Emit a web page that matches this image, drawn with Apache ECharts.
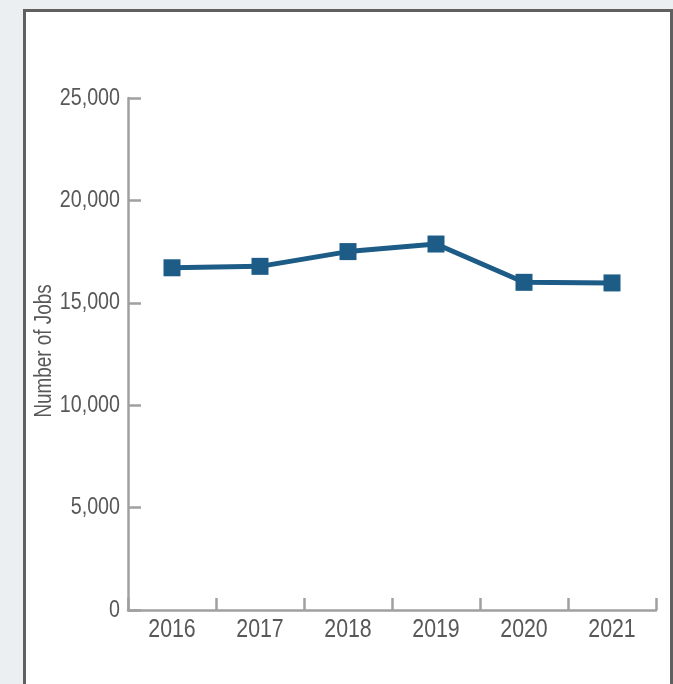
<!DOCTYPE html>
<html>
<head>
<meta charset="utf-8">
<script src="https://cdn.jsdelivr.net/npm/echarts@6/dist/echarts.min.js"></script>
<style>
html,body{margin:0;padding:0;width:673px;height:684px;overflow:hidden;background:#eceff2;}
#panel{position:absolute;left:23px;top:9px;width:644px;height:700px;border:3px solid #606060;background:#ffffff;box-sizing:content-box;}
#chart{position:absolute;left:0;top:0;width:673px;height:684px;}
</style>
</head>
<body>
<div id="panel"></div>
<div id="chart"></div>
<script>
const years = ['2016','2017','2018','2019','2020','2021'];
const jobs = [16710, 16780, 17500, 17870, 16000, 15970];
const yTicks = [0, 5000, 10000, 15000, 20000, 25000];
const yTickLabels = ['0', '5,000', '10,000', '15,000', '20,000', '25,000'];
const yTitle = 'Number of Jobs';

const font = '"Liberation Sans", Arial, sans-serif';
const textColor = '#585858';
const axisColor = '#a0a0a0';
const narrow = 0.82;

const chart = echarts.init(document.getElementById('chart'), null, {renderer:'canvas'});
chart.setOption({
  backgroundColor: 'transparent',
  animation: false,
  grid: {left:128, right:17, top:98, bottom:74, containLabel:false},
  xAxis: {
    type:'category',
    data: years,
    boundaryGap: true,
    axisLine: {show:true, lineStyle:{color:axisColor, width:2.5}},
    axisTick: {show:true, inside:true, length:12, interval:0, lineStyle:{color:axisColor, width:2.5}},
    axisLabel: {show:false},
    splitLine: {show:false}
  },
  yAxis: {
    type:'value',
    min: yTicks[0],
    max: yTicks[yTicks.length-1],
    interval: yTicks[1]-yTicks[0],
    axisLine: {show:true, lineStyle:{color:axisColor, width:2.5}},
    axisTick: {show:true, inside:true, length:13, lineStyle:{color:axisColor, width:2.5}},
    axisLabel: {show:false},
    splitLine: {show:false}
  },
  series: [{
    type:'line',
    data: jobs,
    symbol:'rect',
    symbolSize:17,
    lineStyle:{color:'#1c5c86', width:5},
    itemStyle:{color:'#1c5c86'}
  }]
});

// Condensed labels (narrow font not installed): real text, horizontally scaled,
// positioned through the chart's own axis scales.
const graphics = [];
const yZero = chart.convertToPixel({yAxisIndex:0}, yTicks[0]);
const yTop = chart.convertToPixel({yAxisIndex:0}, yTicks[yTicks.length-1]);
const xLeft = chart.getModel().getComponent('grid').coordinateSystem.getRect().x;
yTicks.forEach((v, i) => {
  graphics.push({
    type:'text', x: xLeft - 8, y: chart.convertToPixel({yAxisIndex:0}, v),
    scaleX: narrow, silent:true,
    style:{text: yTickLabels[i], font: '24px ' + font, fill: textColor, align:'right', verticalAlign:'middle'}
  });
});
years.forEach(y => {
  graphics.push({
    type:'text', x: chart.convertToPixel({xAxisIndex:0}, y), y: yZero + 7,
    scaleX: narrow, silent:true,
    style:{text: y, font: '26px ' + font, fill: textColor, align:'center', verticalAlign:'top'}
  });
});
graphics.push({
  type:'text', x: 45, y: (yZero + yTop) / 2 - 3,
  rotation: Math.PI/2, scaleX: narrow, silent:true,
  style:{text: yTitle, font: '23px ' + font, fill: textColor, align:'center', verticalAlign:'middle'}
});
chart.setOption({graphic: graphics});
</script>
</body>
</html>
